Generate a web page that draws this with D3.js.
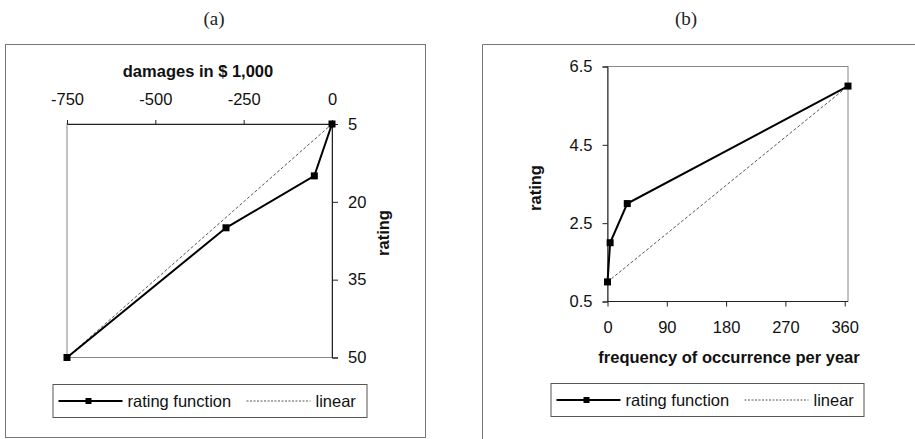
<!DOCTYPE html>
<html>
<head>
<meta charset="utf-8">
<script src="https://cdn.jsdelivr.net/npm/d3@7"></script>
<style>
  body { margin: 0; background: #fff; }
  svg text { font-family: "Liberation Sans", Arial, sans-serif; }
</style>
</head>
<body>
<div id="chart"></div>
<script>
const width = 915, height = 439;

// panel (a): damages vs rating
const damagesX = [0, -50, -300, -750];
const damagesRating = [5, 15, 25, 50];
const damagesLinearX = [0, -750];
const damagesLinearY = [5, 50];
const damagesTicks = [-750, -500, -250, 0];
const ratingTicksA = [5, 20, 35, 50];

// panel (b): frequency vs rating
const freqX = [0, 4, 30, 365];
const freqRating = [1, 2, 3, 6];
const freqLinearX = [0, 365];
const freqLinearY = [1, 6];
const freqTicks = [0, 90, 180, 270, 360];
const ratingTicksB = [0.5, 2.5, 4.5, 6.5];

const seriesNames = ["rating function", "linear"];

const svg = d3.select("#chart").append("svg")
    .attr("width", width)
    .attr("height", height);

// panel labels
svg.append("text").attr("x", 214).attr("y", 25).attr("text-anchor", "middle")
    .style("font-family", "'Liberation Serif', 'DejaVu Serif', serif").style("font-size", "19px")
    .attr("fill", "#222").text("(a)");
svg.append("text").attr("x", 686).attr("y", 25).attr("text-anchor", "middle")
    .style("font-family", "'Liberation Serif', 'DejaVu Serif', serif").style("font-size", "19px")
    .attr("fill", "#222").text("(b)");

// outer frames
svg.append("rect").attr("x", 5.5).attr("y", 44.5).attr("width", 420).attr("height", 393)
    .attr("fill", "none").attr("stroke", "#777");
svg.append("path").attr("d", "M482.5,439 V44.5 H915")
    .attr("fill", "none").attr("stroke", "#777");

const fs = "16.5px";

function drawLines(g, x, y, xs, ys, lxs, lys) {
    const line = d3.line().x(d => x(d[0])).y(d => y(d[1]));
    g.append("path").datum(d3.zip(lxs, lys)).attr("d", line)
        .attr("fill", "none").attr("stroke", "#555").attr("stroke-width", 1)
        .attr("stroke-dasharray", "3,2");
    const pts = d3.zip(xs, ys);
    g.append("path").datum(pts).attr("d", line)
        .attr("fill", "none").attr("stroke", "#000").attr("stroke-width", 2);
    g.selectAll("rect.pt").data(pts).enter().append("rect").attr("class", "pt")
        .attr("x", d => x(d[0]) - 3.5).attr("y", d => y(d[1]) - 3.5)
        .attr("width", 7).attr("height", 7).attr("fill", "#000");
}

function legend(x0, y0, w, h) {
    const g = svg.append("g").attr("transform", `translate(${x0},${y0})`);
    g.append("rect").attr("x", 0.5).attr("y", 0.5).attr("width", w).attr("height", h)
        .attr("fill", "#fff").attr("stroke", "#555");
    const cy = h / 2 + 0.5;
    g.append("line").attr("x1", 6).attr("x2", 70).attr("y1", cy).attr("y2", cy)
        .attr("stroke", "#000").attr("stroke-width", 2);
    g.append("rect").attr("x", 33).attr("y", cy - 3).attr("width", 6).attr("height", 6).attr("fill", "#000");
    g.append("text").attr("x", 75).attr("y", cy + 6).style("font-size", fs).attr("fill", "#111").text(seriesNames[0]);
    g.append("line").attr("x1", 194).attr("x2", 258).attr("y1", cy).attr("y2", cy)
        .attr("stroke", "#555").attr("stroke-width", 1).attr("stroke-dasharray", "2,1.5");
    g.append("text").attr("x", 263).attr("y", cy + 6).style("font-size", fs).attr("fill", "#111").text(seriesNames[1]);
}

// ---------- panel (a)
{
    const x = d3.scaleLinear().domain([-750, 0]).range([67, 332]);
    const y = d3.scaleLinear().domain([5, 50]).range([124, 357.5]);
    const g = svg.append("g");
    // plot frame (gray)
    g.append("rect").attr("x", x(-750)).attr("y", y(5)).attr("width", x(0) - x(-750)).attr("height", y(50) - y(5))
        .attr("fill", "none").attr("stroke", "#888");
    const xAxis = g.append("g").attr("transform", `translate(0,${y(5)})`)
        .call(d3.axisTop(x).tickValues(damagesTicks).tickSize(4).tickPadding(15).tickFormat(d => String(d)));
    const yAxis = g.append("g").attr("transform", `translate(${x(0)},0)`)
        .call(d3.axisRight(y).tickValues(ratingTicksA).tickSize(6).tickPadding(10));
    [xAxis, yAxis].forEach(a => {
        a.selectAll("path, line").attr("stroke", "#222");
        a.selectAll("text").style("font-size", fs).attr("fill", "#111")
            .style("font-family", "'Liberation Sans', Arial, sans-serif");
    });
    drawLines(g, x, y, damagesX, damagesRating, damagesLinearX, damagesLinearY);
    g.append("text").attr("x", 198).attr("y", 77).attr("text-anchor", "middle")
        .style("font-size", fs).style("font-weight", "bold").attr("fill", "#111").text("damages in $ 1,000");
    g.append("text").attr("transform", "translate(389,233) rotate(-90)").attr("text-anchor", "middle")
        .style("font-size", fs).style("font-weight", "bold").attr("fill", "#111").text("rating");
    legend(52.5, 384, 314, 33);
}

// ---------- panel (b)
{
    const x = d3.scaleLinear().domain([0, 365]).range([607.5, 848]);
    const y = d3.scaleLinear().domain([0.5, 6.5]).range([301.5, 66.5]);
    const g = svg.append("g");
    g.append("rect").attr("x", x(0)).attr("y", y(6.5)).attr("width", x(365) - x(0)).attr("height", y(0.5) - y(6.5))
        .attr("fill", "none").attr("stroke", "#888");
    const xAxis = g.append("g").attr("transform", `translate(0,${y(0.5)})`)
        .call(d3.axisBottom(x).tickValues(freqTicks).tickSize(5).tickPadding(15).tickFormat(d3.format("d")));
    xAxis.select(".domain").attr("d", `M${x(0)},0H${x(365)}`);
    const yAxis = g.append("g").attr("transform", `translate(${x(0)},0)`)
        .call(d3.axisLeft(y).tickValues(ratingTicksB).tickSize(5).tickPadding(10).tickFormat(d3.format(".1f")));
    [xAxis, yAxis].forEach(a => {
        a.selectAll("path, line").attr("stroke", "#222");
        a.selectAll("text").style("font-size", fs).attr("fill", "#111")
            .style("font-family", "'Liberation Sans', Arial, sans-serif");
    });
    drawLines(g, x, y, freqX, freqRating, freqLinearX, freqLinearY);
    g.append("text").attr("x", 729).attr("y", 363).attr("text-anchor", "middle")
        .style("font-size", fs).style("font-weight", "bold").attr("fill", "#111").text("frequency of occurrence per year");
    g.append("text").attr("transform", "translate(541,188) rotate(-90)").attr("text-anchor", "middle")
        .style("font-size", fs).style("font-weight", "bold").attr("fill", "#111").text("rating");
    legend(550.5, 383, 313, 33);
}
</script>
</body>
</html>
